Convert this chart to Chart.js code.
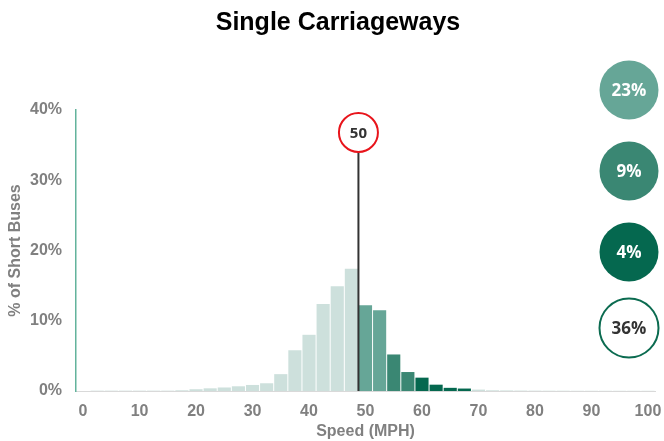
<!DOCTYPE html>
<html>
<head>
<meta charset="utf-8">
<script src="https://cdn.jsdelivr.net/npm/chart.js@4"></script>
<style>
  html, body { margin: 0; padding: 0; background: #fff; }
  #wrap { width: 664px; height: 441px; }
</style>
</head>
<body>
<div id="wrap"><canvas id="myChart" width="664" height="441"></canvas></div>
<script>
// speed bins, 2.5 mph each
var speeds = ['0','2.5','5','7.5','10','12.5','15','17.5','20','22.5','25','27.5','30','32.5','35','37.5',
  '40','42.5','45','47.5','50','52.5','55','57.5','60','62.5','65','67.5','70','72.5','75','77.5',
  '80','82.5','85','87.5','90','92.5','95','97.5','100'];
// % of short buses in each bin
var shares = [0, 0.05, 0.05, 0.05, 0.05, 0.05, 0.05, 0.1, 0.25, 0.38, 0.5, 0.67, 0.86, 1.1, 2.4, 5.8,
  8.0, 12.4, 14.9, 17.4, 12.2, 11.5, 5.2, 2.7, 1.9, 0.9, 0.45, 0.35, 0.2, 0.1, 0.08, 0.06,
  0.05, 0.04, 0.04, 0.03, 0.03, 0.03, 0.03, 0.03, 0.03];
var limit = '50';
var summaryLabels = ['23%', '9%', '4%', '36%'];
var yTicks = [0, 10, 20, 30, 40];

var light = '#cde0dc';
var bandColors = ['#66a697', '#3a8773', '#05684f'];

function barColor(i) {
  var v = parseFloat(speeds[i]);
  if (v >= 50 && v < 55) return bandColors[0];
  if (v >= 55 && v < 60) return bandColors[1];
  if (v >= 60 && v < 70) return bandColors[2];
  return light;
}

var gray = '#808080';
var tickFont = {family: 'Liberation Sans, Arial', size: 16, weight: 'bold'};

var extras = {
  id: 'extras',
  afterDatasetsDraw: function(chart) {
    var ctx = chart.ctx;
    var area = chart.chartArea;
    var xs = chart.scales.x, ys = chart.scales.y;
    var idx = speeds.indexOf(limit);
    var lx = (xs.getPixelForTick(idx - 1) + xs.getPixelForTick(idx)) / 2;
    var cy = ys.getPixelForValue(36.8);
    ctx.save();
    // speed limit line
    ctx.strokeStyle = '#333';
    ctx.lineWidth = 2;
    ctx.beginPath();
    ctx.moveTo(lx, cy + 20);
    ctx.lineTo(lx, area.bottom);
    ctx.stroke();
    // limit sign
    ctx.beginPath();
    ctx.arc(lx, cy, 19.5, 0, Math.PI * 2);
    ctx.fillStyle = '#fff';
    ctx.fill();
    ctx.strokeStyle = '#e8141b';
    ctx.lineWidth = 2;
    ctx.stroke();
    ctx.fillStyle = '#333';
    ctx.font = 'bold 15px "Open Sans"';
    ctx.textAlign = 'center';
    ctx.textBaseline = 'middle';
    ctx.fillText(limit, lx, cy + 1);

    // summary badges
    var bx = 629;
    var by = [90, 171, 252, 328];
    for (var i = 0; i < summaryLabels.length; i++) {
      ctx.beginPath();
      ctx.arc(bx, by[i], 29.5, 0, Math.PI * 2);
      if (i < 3) {
        ctx.fillStyle = bandColors[i];
        ctx.fill();
        ctx.fillStyle = '#fff';
      } else {
        ctx.fillStyle = '#fff';
        ctx.fill();
        ctx.strokeStyle = '#0b6b50';
        ctx.lineWidth = 2;
        ctx.stroke();
        ctx.fillStyle = '#333';
      }
      ctx.font = 'bold 17px "Open Sans"';
      ctx.fillText(summaryLabels[i], bx, by[i] + 1);
    }

    // title
    ctx.fillStyle = '#000';
    ctx.font = 'bold 25px "Liberation Sans", Arial';
    ctx.fillText('Single Carriageways', 338, 23);
    ctx.restore();
  }
};

var ctx = document.getElementById('myChart').getContext('2d');
var myChart = new Chart(ctx, {
  type: 'bar',
  data: {
    labels: speeds,
    datasets: [{
      data: shares,
      backgroundColor: shares.map(function(v, i) { return barColor(i); }),
      barPercentage: 0.93,
      categoryPercentage: 1
    }]
  },
  options: {
    responsive: false,
    animation: false,
    layout: {padding: {top: 110, right: 9, left: 0, bottom: 0}},
    plugins: {
      legend: {display: false},
      tooltip: {enabled: false}
    },
    scales: {
      x: {
        grid: {display: false, drawTicks: false},
        border: {color: '#d9d9d9', width: 1},
        ticks: {
          autoSkip: false,
          maxRotation: 0,
          padding: 11,
          color: gray,
          font: tickFont,
          callback: function(val, i) { return i % 4 === 0 ? speeds[i] : ''; }
        },
        title: {display: true, text: 'Speed (MPH)', color: gray, font: tickFont, padding: {top: 0, bottom: 0}},
        afterFit: function(s) { s.height = 50; s.paddingRight = 0; s.paddingLeft = 0; }
      },
      y: {
        min: yTicks[0],
        max: yTicks[yTicks.length - 1],
        grid: {display: false, drawTicks: false},
        border: {color: '#63b39c', width: 1.5},
        ticks: {
          stepSize: 10,
          padding: 14,
          color: gray,
          font: tickFont,
          callback: function(v) { return v + '%'; }
        },
        title: {display: true, text: '% of Short Buses', color: gray, font: tickFont, padding: {top: 6, bottom: 6}},
        afterFit: function(s) { s.width = 76; }
      }
    }
  },
  plugins: [extras]
});
</script>
</body>
</html>
